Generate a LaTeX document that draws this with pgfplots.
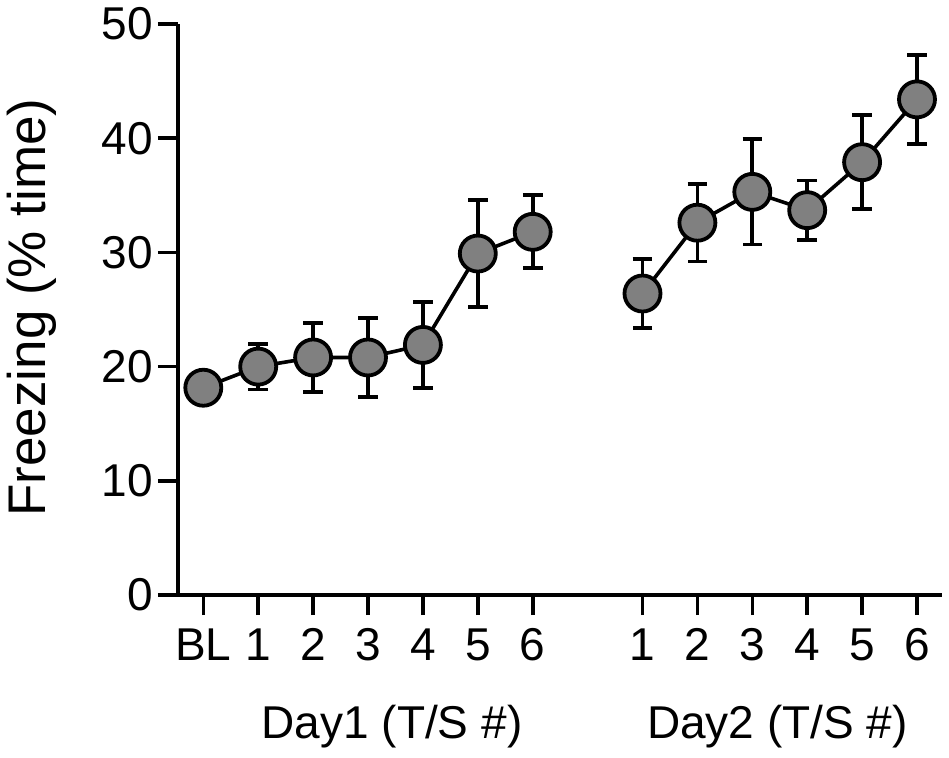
\documentclass[border=0pt]{standalone}
\usepackage{fontspec}
\setmainfont{Liberation Sans}
\usepackage{pgfplots}
\pgfplotsset{compat=1.18}
\usepackage{pgfplotstable}

\pgfplotstableread{
x y e
0 18.15 0
1 20.0 2.0
2 20.8 3.0
3 20.8 3.45
4 21.9 3.75
5 29.9 4.7
6 31.8 3.2
}\dayone

\pgfplotstableread{
x y e
8 26.4 3.0
9 32.6 3.4
10 35.3 4.6
11 33.7 2.6
12 37.9 4.1
13 43.4 3.9
}\daytwo

\begin{document}
\begin{tikzpicture}
\useasboundingbox (0,0) rectangle (474.5pt,378.5pt);
\begin{axis}[
  at={(89pt,81pt)}, anchor=south west,
  width=381.85pt, height=285.5pt, scale only axis,
  xmin=-0.461, xmax=13.45, ymin=0, ymax=50,
  axis x line*=bottom, axis y line*=left,
  axis line style={line width=1.8pt, black},
  xtick={0,1,2,3,4,5,6,8,9,10,11,12,13},
  xticklabels={BL,1,2,3,4,5,6,1,2,3,4,5,6},
  ytick={0,10,20,30,40,50},
  tick align=outside, major tick length=10pt,
  every tick/.style={line width=1.8pt, black},
  tick label style={font=\fontsize{23pt}{27pt}\selectfont},
  /pgf/number format/assume math mode=true,
  xticklabel style={inner sep=0pt, yshift=-6.5pt},
  yticklabel style={inner sep=0pt, xshift=-2.5pt},
  clip=false,
]
\addplot[black, line width=1.8pt, mark=none,
  error bars/.cd, y dir=both, y explicit,
  error bar style={line width=1.9pt, black},
  error mark options={black, mark size=4.9pt, line width=1.9pt, rotate=90}]
  table[x=x, y=y, y error=e]{\dayone};
\addplot[only marks, mark=*, mark size=9pt,
  mark options={fill=black!50, draw=black, line width=1.9pt}]
  table[x=x, y=y]{\dayone};
\addplot[black, line width=1.8pt, mark=none,
  error bars/.cd, y dir=both, y explicit,
  error bar style={line width=1.9pt, black},
  error mark options={black, mark size=4.9pt, line width=1.9pt, rotate=90}]
  table[x=x, y=y, y error=e]{\daytwo};
\addplot[only marks, mark=*, mark size=9pt,
  mark options={fill=black!50, draw=black, line width=1.9pt}]
  table[x=x, y=y]{\daytwo};
\end{axis}
\node[font=\fontsize{23pt}{27pt}\selectfont, anchor=base, inner sep=0pt] at (196pt,9.5pt) {Day1 (T/S \#)};
\node[font=\fontsize{23pt}{27pt}\selectfont, anchor=base, inner sep=0pt] at (388.75pt,9.5pt) {Day2 (T/S \#)};
\node[font=\fontsize{26.5pt}{31pt}\selectfont, rotate=90, anchor=base, inner sep=0pt] at (23pt,224.75pt) {Freezing (\% time)};
\end{tikzpicture}
\end{document}
